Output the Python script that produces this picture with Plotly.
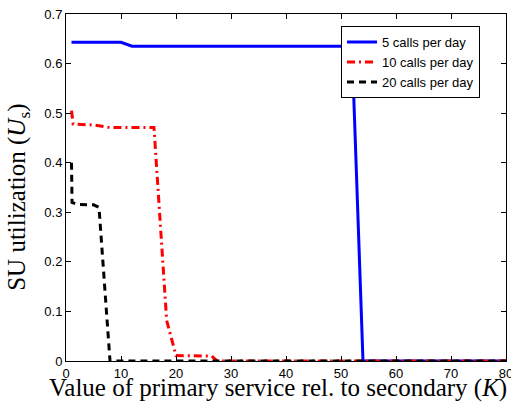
import plotly.graph_objects as go

# Data
k_5 = [1, 10, 12, 52, 54, 80]
u_5 = [0.643, 0.643, 0.635, 0.635, 0.0, 0.0]

k_10 = [1, 1.3, 5, 8, 16, 18.3, 20, 26.5, 27.5, 80]
u_10 = [0.505, 0.478, 0.476, 0.471, 0.471, 0.082, 0.011, 0.010, 0.0, 0.0]

k_20 = [1, 1.1, 2, 5, 6, 8, 80]
u_20 = [0.400, 0.320, 0.316, 0.315, 0.310, 0.0, 0.0]

series_names = ["5 calls per day", "10 calls per day", "20 calls per day"]
x_ticks = [0, 10, 20, 30, 40, 50, 60, 70, 80]
y_ticks = [0, 0.1, 0.2, 0.3, 0.4, 0.5, 0.6, 0.7]
y_tick_text = ["0", "0.1", "0.2", "0.3", "0.4", "0.5", "0.6", "0.7"]

fig = go.Figure()
fig.add_trace(go.Scatter(x=k_5, y=u_5, mode="lines", name=series_names[0],
                         line=dict(color="#0000ff", width=3)))
fig.add_trace(go.Scatter(x=k_10, y=u_10, mode="lines", name=series_names[1],
                         line=dict(color="#ff0000", width=3, dash="8px,4px,2px,4px")))
fig.add_trace(go.Scatter(x=k_20, y=u_20, mode="lines", name=series_names[2],
                         line=dict(color="#000000", width=3, dash="7px,5px")))

tick_font = dict(family="Liberation Sans, Arial, sans-serif", size=13, color="black")
axis_common = dict(showline=True, linecolor="black", linewidth=1, mirror="ticks",
                   ticks="inside", ticklen=5, tickcolor="black", tickwidth=1,
                   showgrid=False, zeroline=False, tickfont=tick_font,
                   ticklabeloverflow="allow", automargin=False)

fig.update_layout(
    width=511, height=403,
    margin=dict(l=66, r=5, t=14, b=42),
    plot_bgcolor="white", paper_bgcolor="white",
    showlegend=True,
    legend=dict(x=0.625, y=0.965, xanchor="left", yanchor="top",
                bordercolor="black", borderwidth=1, bgcolor="white",
                font=dict(family="Liberation Sans, Arial, sans-serif", size=13, color="black"),
                tracegroupgap=0),
    xaxis=dict(range=[0, 80], tickvals=x_ticks, **axis_common),
    yaxis=dict(range=[0, 0.7], tickvals=y_ticks, ticktext=y_tick_text, **axis_common),
    annotations=[
        dict(text="Value of primary service rel. to secondary (<i>K</i>)",
             xref="paper", yref="paper", x=0.482, y=-0.124, xanchor="center", yanchor="bottom",
             showarrow=False,
             font=dict(family="Liberation Serif, Times New Roman, serif", size=25, color="black")),
        dict(text="SU utilization (<i>U</i><sub>s</sub>)",
             xref="paper", yref="paper", x=-0.107, y=0.473, xanchor="center", yanchor="middle",
             textangle=-90, showarrow=False,
             font=dict(family="Liberation Serif, Times New Roman, serif", size=25, color="black")),
    ],
)

fig.write_html("out.html")
